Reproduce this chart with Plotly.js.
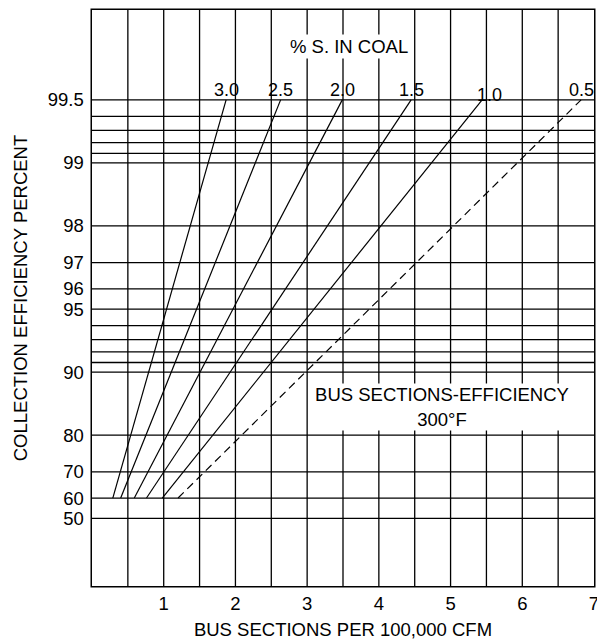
<!DOCTYPE html>
<html>
<head>
<meta charset="utf-8">
<script src="https://cdn.plot.ly/plotly-3.0.1.min.js"></script>
<style>
  html, body { margin: 0; padding: 0; background: #fff; }
  #chart { width: 597px; height: 640px; }
  #chart .crisp, #chart .gridlayer path, #chart path.xgrid, #chart path.ygrid {
    shape-rendering: geometricPrecision !important;
  }
</style>
</head>
<body>
<div id="chart"></div>
<script>
// ---- data ----
const sulfurLabels = ['3.0', '2.5', '2.0', '1.5', '1.0', '0.5'];   // % S in coal
const lineEfficiency = [60, 99.5];                                  // each line runs from 60 % to 99.5 %
const busAt60 = [0.29, 0.40, 0.59, 0.76, 0.98, 1.20];               // bus sections at 60 %
const busAt995 = [1.87, 2.63, 3.49, 4.45, 5.44, 6.82];              // bus sections at 99.5 %

const yGridEff = [50, 60, 70, 80, 90, 91, 92, 93, 94, 95, 96, 97, 98, 99, 99.1, 99.2, 99.3, 99.4, 99.5];
const yLabelEff = [50, 60, 70, 80, 90, 95, 96, 97, 98, 99, 99.5];
const yLabelText = ['50', '60', '70', '80', '90', '95', '96', '97', '98', '99', '99.5'];

const xGrid = [0.5, 1, 1.5, 2, 2.5, 3, 3.5, 4, 4.5, 5, 5.5, 6, 6.5, 7];
const xLabelVals = [1, 2, 3, 4, 5, 6, 7];

// efficiency scale: log of (100 - efficiency), reversed
const toPen = e => +(100 - e).toFixed(4);

const FONT = '"Liberation Sans", Arial, Helvetica, sans-serif';
const FS = 18.5;

const traces = sulfurLabels.map((s, i) => ({
  type: 'scatter',
  mode: 'lines',
  x: [busAt60[i], busAt995[i]],
  y: lineEfficiency.map(toPen),
  line: { color: '#000', width: 1.2, dash: s === '0.5' ? '8px,5px' : 'solid' },
  hoverinfo: 'skip',
  showlegend: false,
  name: s
}));

const yTickVals = yGridEff.map(toPen);
const yTickText = yGridEff.map(e => {
  const k = yLabelEff.indexOf(e);
  return k >= 0 ? yLabelText[k] : '';
});
const xTickText = xGrid.map(v => xLabelVals.includes(v) ? String(v) : '');

const annotations = sulfurLabels.map((s, i) => ({
  x: busAt995[i],
  y: Math.log10(toPen(lineEfficiency[1])),
  xref: 'x', yref: 'y',
  text: s,
  showarrow: false,
  xanchor: 'center', yanchor: 'middle',
  xshift: s === '1.0' ? 7 : 0,
  yshift: s === '1.0' ? 5 : 10,
  font: { family: FONT, size: 18, color: '#000' }
}));

annotations.push({
  x: 0.512, y: 0.937, xref: 'paper', yref: 'paper',
  text: '% S. IN COAL', showarrow: false,
  xanchor: 'center', yanchor: 'middle',
  bgcolor: '#fff', borderpad: 1,
  font: { family: FONT, size: FS, color: '#000' }
});

annotations.push({
  x: 0.698, y: 0.3108, xref: 'paper', yref: 'paper',
  text: 'BUS SECTIONS-EFFICIENCY<br>300°F', showarrow: false,
  xanchor: 'center', yanchor: 'middle',
  width: 262, height: 46, valign: 'middle', align: 'center',
  bgcolor: '#fff', borderpad: 0,
  font: { family: FONT, size: FS, color: '#000' }
});

const layout = {
  width: 597, height: 640,
  margin: { l: 92, r: 3, t: 10, b: 54 },
  paper_bgcolor: '#fff', plot_bgcolor: '#fff',
  font: { family: FONT, size: FS, color: '#000' },
  xaxis: {
    range: [0, 7],
    tickmode: 'array', tickvals: xGrid, ticktext: xTickText,
    ticks: '', showgrid: true, gridcolor: '#000', gridwidth: 1.3,
    zeroline: false, showline: true, mirror: true, linecolor: '#000', linewidth: 1.5,
    ticklabelstandoff: 0,
    ticklabeloverflow: 'allow',
    tickfont: { family: FONT, size: FS, color: '#000' },
    title: { text: 'BUS SECTIONS PER 100,000 CFM', standoff: 20,
             font: { family: FONT, size: FS, color: '#000' } },
    fixedrange: true
  },
  yaxis: {
    type: 'log',
    range: [2.0225, -0.7306],
    tickmode: 'array', tickvals: yTickVals, ticktext: yTickText,
    ticks: '', showgrid: true, gridcolor: '#000', gridwidth: 1.3,
    zeroline: false, showline: true, mirror: true, linecolor: '#000', linewidth: 1.5,
    ticklabelstandoff: 3,
    tickfont: { family: FONT, size: FS, color: '#000' },
    title: { text: 'COLLECTION EFFICIENCY PERCENT', standoff: 15,
             font: { family: FONT, size: FS, color: '#000' } },
    fixedrange: true
  },
  annotations: annotations
};

Plotly.newPlot('chart', traces, layout, { staticPlot: true, displayModeBar: false });
</script>
</body>
</html>
